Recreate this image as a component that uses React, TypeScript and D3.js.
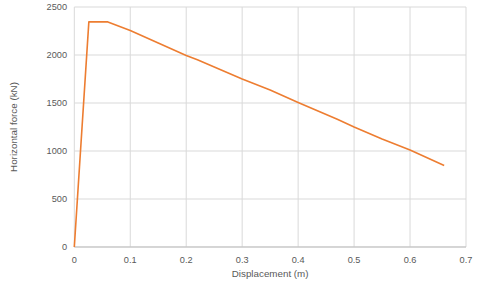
import React from "react";
import * as d3 from "d3";

const dispValues = [0, 0.026, 0.06, 0.1, 0.15, 0.2, 0.22, 0.3, 0.35, 0.4, 0.47, 0.5, 0.55, 0.6, 0.661];
const forceValues = [0, 2345, 2345, 2255, 2125, 1995, 1950, 1750, 1635, 1505, 1330, 1250, 1125, 1010, 850];
const xTicks = [0, 0.1, 0.2, 0.3, 0.4, 0.5, 0.6, 0.7];
const yTicks = [0, 500, 1000, 1500, 2000, 2500];

export default function App() {
  const W = 480, H = 288;
  const left = 74.3, right = 466, top = 7, bottom = 247;
  const x = d3.scaleLinear().domain([0, 0.7]).range([left, right]);
  const y = d3.scaleLinear().domain([0, 2500]).range([bottom, top]);
  const pts = dispValues.map((d, i) => [d, forceValues[i]] as [number, number]);
  const line = d3.line<[number, number]>().x(d => x(d[0])).y(d => y(d[1]));
  const font = "'Liberation Sans', Arial, sans-serif";
  return (
    <svg width={W} height={H} style={{ position: "absolute", left: 0, top: 0, background: "#fff" }}>
      {yTicks.map(t => (
        <line key={"gy" + t} x1={left} x2={right} y1={y(t)} y2={y(t)} stroke="#d9d9d9" strokeWidth={1} />
      ))}
      {xTicks.map(t => (
        <line key={"gx" + t} x1={x(t)} x2={x(t)} y1={top} y2={bottom} stroke="#d9d9d9" strokeWidth={1} />
      ))}
      <line x1={left} x2={right} y1={bottom} y2={bottom} stroke="#bfbfbf" strokeWidth={1} />
      {yTicks.map(t => (
        <text key={"ty" + t} x={67} y={y(t)} dy="0.35em" textAnchor="end" fontSize={9.2} fill="#595959" fontFamily={font}>{t}</text>
      ))}
      {xTicks.map(t => (
        <text key={"tx" + t} x={x(t)} y={259.5} dy="0.35em" textAnchor="middle" fontSize={9.2} fill="#595959" fontFamily={font}>{t}</text>
      ))}
      <text x={(left + right) / 2} y={274} dy="0.35em" textAnchor="middle" fontSize={9.8} fill="#595959" fontFamily={font}>Displacement (m)</text>
      <text transform={`translate(14,${(top + bottom) / 2}) rotate(-90)`} dy="0.35em" textAnchor="middle" fontSize={9.8} fill="#595959" fontFamily={font}>Horizontal force (kN)</text>
      <path d={line(pts) || ""} fill="none" stroke="#ED7D31" strokeWidth={1.6} strokeLinejoin="round" />
    </svg>
  );
}
